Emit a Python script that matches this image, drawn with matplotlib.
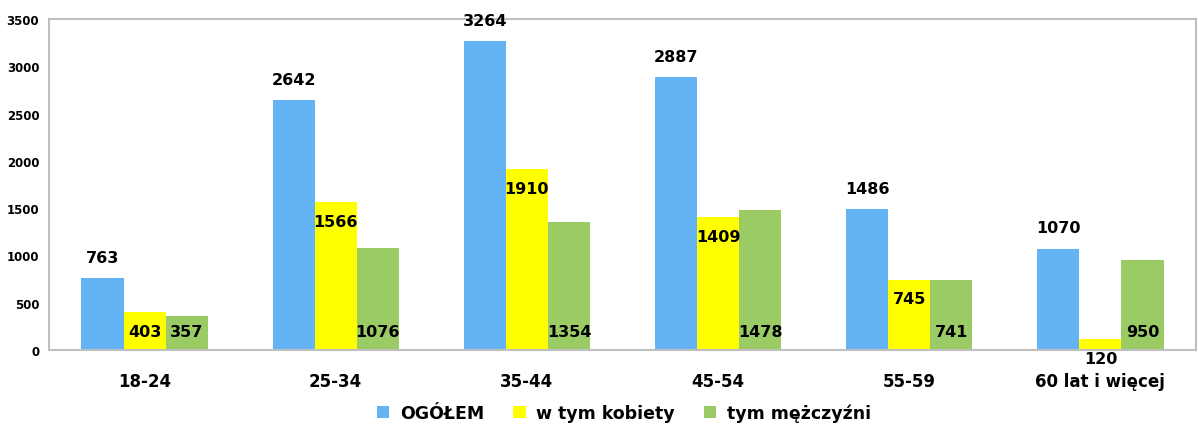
import matplotlib
matplotlib.use("Agg")
import matplotlib.pyplot as plt
import numpy as np

categories = ["18-24", "25-34", "35-44", "45-54", "55-59", "60 lat i więcej"]
ogolem = [763, 2642, 3264, 2887, 1486, 1070]
kobiety = [403, 1566, 1910, 1409, 745, 120]
mezczyzni = [357, 1076, 1354, 1478, 741, 950]
series_names = ["OGÓŁEM", "w tym kobiety", "tym mężczyźni"]
yticks = [0, 500, 1000, 1500, 2000, 2500, 3000, 3500]

colors = ["#63B3F5", "#FFFF00", "#9BCB64"]
FONT = "DejaVu Sans"

fig = plt.figure(figsize=(11.98, 4.27), dpi=100)
ax = fig.add_axes([49/1198, 1 - 351/427, (1196-49)/1198, (351-20)/427])

x = np.arange(len(categories))
w = 0.22
b1 = ax.bar(x - w, ogolem, w, color=colors[0], label=series_names[0])
b2 = ax.bar(x, kobiety, w, color=colors[1], label=series_names[1])
b3 = ax.bar(x + w, mezczyzni, w, color=colors[2], label=series_names[2])

ax.set_xlim(-0.5, len(categories) - 0.5)
ax.set_ylim(0, 3500)
ax.set_yticks(yticks)
ax.set_yticklabels([str(t) for t in yticks], fontsize=8.5, fontweight="bold", family=FONT)
ax.set_xticks(x)
ax.set_xticklabels(categories, fontsize=12, fontweight="bold", family=FONT)
ax.tick_params(length=0)
ax.tick_params(axis="x", pad=15.5)
ax.tick_params(axis="y", pad=7)
for s in ax.spines.values():
    s.set_color("#BFBFBF")
    s.set_linewidth(1.5)

lbl = dict(fontsize=11.5, fontweight="bold", family=FONT, ha="center", va="center", color="black")
for r in b1:
    ax.annotate(f"{int(r.get_height())}", (r.get_x() + r.get_width()/2, r.get_height()),
                xytext=(0, 15), textcoords="offset points", **lbl)
for r in b2:
    ax.annotate(f"{int(r.get_height())}", (r.get_x() + r.get_width()/2, r.get_height()),
                xytext=(0, -14), textcoords="offset points", **lbl)
for r in b3:
    ax.annotate(f"{int(r.get_height())}", (r.get_x() + r.get_width()/2, 0),
                xytext=(0, 13.5), textcoords="offset points", **lbl)

leg = fig.legend(loc="center", bbox_to_anchor=(624/1198, 1 - 414/427), ncol=3, frameon=False,
                 prop={"family": FONT, "weight": "bold", "size": 12.5},
                 handlelength=0.7, handleheight=0.7, handletextpad=0.6, columnspacing=1.7)

fig.savefig("out.png", dpi=100)
